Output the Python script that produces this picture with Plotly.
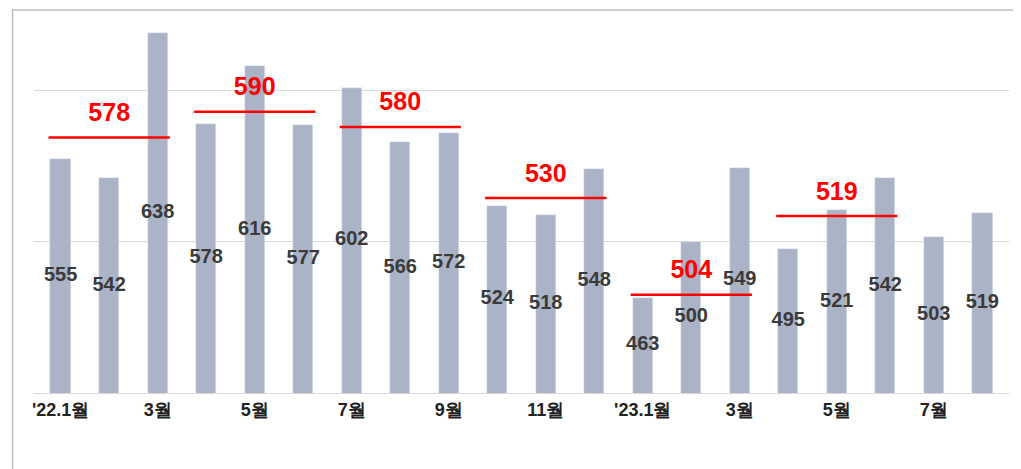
import plotly.graph_objects as go

months = ["'22.1월","2월","3월","4월","5월","6월","7월","8월","9월","10월","11월","12월",
          "'23.1월","2월","3월","4월","5월","6월","7월","8월"]
values = [555,542,638,578,616,577,602,566,572,524,518,548,463,500,549,495,521,542,503,519]
tick_labels = ["'22.1월","3월","5월","7월","9월","11월","'23.1월","3월","5월","7월"]
q_labels = [578,590,580,530,504,519]
q_line_level = [569,586,576,529,465,517]
q_start = [0,3,6,9,12,15]

FONT = "Liberation Sans, Arial, DejaVu Sans"
x = list(range(len(values)))
fig = go.Figure()
fig.add_bar(x=x, y=values, base=0, marker_color="#aab4c6", width=0.42, hoverinfo="skip")
fig.add_scatter(x=x, y=[(v+400)/2 for v in values], mode="text", text=[f"<b>{v}</b>" for v in values],
                textfont=dict(size=20, color="#3a3a3a", family=FONT), hoverinfo="skip")
for s, lab, lv in zip(q_start, q_labels, q_line_level):
    fig.add_scatter(x=[s-0.25, s+2.25], y=[lv, lv], mode="lines", line=dict(color="#ff0000", width=2.5), hoverinfo="skip")
    fig.add_scatter(x=[s+1], y=[lv+15], mode="text", text=[f"<b>{lab}</b>"],
                    textfont=dict(size=25, color="#ff0000", family=FONT), hoverinfo="skip")

fig.update_layout(
    width=1021, height=469, showlegend=False, plot_bgcolor="white", paper_bgcolor="white",
    margin=dict(l=26, r=20, t=4, b=84),
    bargap=0,
    shapes=[dict(type="rect", xref="paper", yref="paper", x0=-0.022, x1=1.016, y0=-0.215, y1=1.005,
                 line=dict(color="#bfbfbf", width=1.5))],
)
fig.update_xaxes(tickvals=x[::2], ticktext=[f"<b>{t}</b>" for t in tick_labels], range=[-0.55, 19.55], showgrid=False,
                 tickfont=dict(size=18, color="#222", family=FONT), ticks="", showline=True,
                 linecolor="#d9d9d9")
fig.update_yaxes(range=[400, 652], tickvals=[400,500,600], showticklabels=False, gridcolor="#d9d9d9",
                 zeroline=False)
fig.write_html("out.html")
